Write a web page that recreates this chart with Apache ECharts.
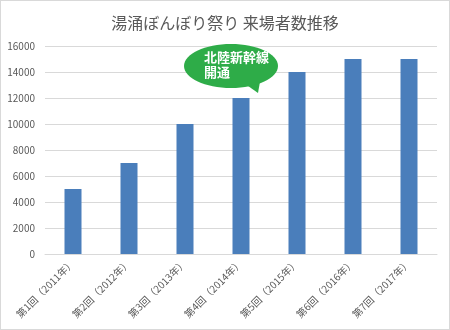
<!DOCTYPE html>
<html><head><meta charset="utf-8">
<script src="https://cdn.jsdelivr.net/npm/echarts@6/dist/echarts.min.js"></script>
<style>html,body{margin:0;padding:0;background:#fff}#c{width:450px;height:330px;box-sizing:border-box;border:1px solid #d9d9d9}</style>
</head><body><div id="c"></div>
<script>
const categories = ['第1回（2011年）','第2回（2012年）','第3回（2013年）','第4回（2014年）','第5回（2015年）','第6回（2016年）','第7回（2017年）'];
const visitors = [5000, 7000, 10000, 12000, 14000, 15000, 15000];
const yTicks = [0, 2000, 4000, 6000, 8000, 10000, 12000, 14000, 16000];
const titleText = '湯涌ぼんぼり祭り 来場者数推移';
const calloutText = '北陸新幹線\n開通';
const calloutCategory = '第4回（2014年）';
const calloutValue = 12000;

const chart = echarts.init(document.getElementById('c'), null, {renderer:'canvas'});
const font = '"Noto Sans CJK JP", "Noto Sans", sans-serif';
chart.setOption({
  animation:false,
  textStyle:{fontFamily:font},
  title:{text:titleText,left:'center',top:9,textStyle:{fontSize:16,fontWeight:'normal',color:'#595959',fontFamily:font}},
  grid:{left:44,right:12,top:45,bottom:75,containLabel:false},
  xAxis:{type:'category',data:categories,
    axisLine:{lineStyle:{color:'#d9d9d9'}},axisTick:{show:false},
    axisLabel:{rotate:45,color:'#595959',fontSize:10,interval:0,margin:7,fontFamily:font}},
  yAxis:{type:'value',min:yTicks[0],max:yTicks[yTicks.length-1],interval:2000,
    axisLine:{show:false},axisTick:{show:false},
    axisLabel:{color:'#595959',fontSize:10,margin:10,fontFamily:font,formatter:v=>String(v)},
    splitLine:{lineStyle:{color:'#d9d9d9'}}},
  series:[{type:'bar',data:visitors,barWidth:17,itemStyle:{color:'#4a7ebb'}}]
});

const p = chart.convertToPixel({xAxisIndex:0,yAxisIndex:0},[calloutCategory,calloutValue]);
const cx = p[0]-10, cy = p[1]-32;
chart.setOption({graphic:[
  {type:'polygon',shape:{points:[[cx+10,cy+15],[cx+30,cy+10],[p[0]+17,p[1]-5]]},style:{fill:'#2eac48'},z:10},
  {type:'ellipse',shape:{cx:cx,cy:cy,rx:47,ry:22},style:{fill:'#2eac48'},z:10},
  {type:'text',left:cx-27,top:cy-16,z:11,style:{text:calloutText,fill:'#fff',font:'bold 13px '+font,lineHeight:15}}
]});
</script></body></html>
